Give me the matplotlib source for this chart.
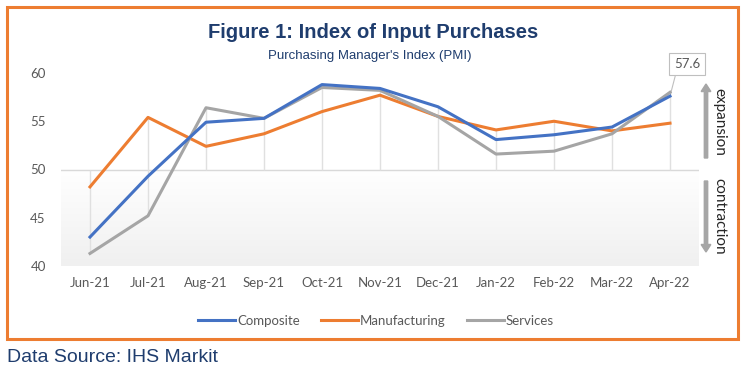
import matplotlib
matplotlib.use("Agg")
import matplotlib.pyplot as plt
import numpy as np
from matplotlib.colors import LinearSegmentedColormap
from matplotlib.patches import Rectangle, FancyArrow

months = ["Jun-21", "Jul-21", "Aug-21", "Sep-21", "Oct-21", "Nov-21", "Dec-21",
          "Jan-22", "Feb-22", "Mar-22", "Apr-22"]
composite = [43.0, 49.3, 54.9, 55.3, 58.8, 58.4, 56.5, 53.1, 53.6, 54.4, 57.6]
manufacturing = [48.2, 55.4, 52.4, 53.7, 56.0, 57.7, 55.5, 54.1, 55.0, 54.0, 54.8]
services = [41.3, 45.2, 56.4, 55.3, 58.5, 58.2, 55.5, 51.6, 51.9, 53.7, 58.0]
yticks = [40, 45, 50, 55, 60]

W, H = 747, 376
fig = plt.figure(figsize=(W / 100, H / 100), dpi=100)

def fx(px):
    return px / W

def fy(py):
    return 1 - py / H

# orange border
fig.patches.append(Rectangle((fx(7), fy(339)), fx(731), (332) / H, transform=fig.transFigure,
                             fill=False, edgecolor="#ED7D31", linewidth=2.2))

ax = fig.add_axes([fx(61), fy(266), fx(638), 193 / H])
x = np.arange(len(months))
ax.set_xlim(-0.5, len(months) - 0.5)
ax.set_ylim(40, 60)

# gradient shading below 50
cmap = LinearSegmentedColormap.from_list("g", ["#f0f0f0", "#ffffff"])
grad = np.linspace(0, 1, 100).reshape(-1, 1)
ax.imshow(grad, extent=(-0.5, len(months) - 0.5, 40, 50), origin="lower", cmap=cmap,
          aspect="auto", zorder=0)
ax.axhline(50, color="#d9d9d9", linewidth=1.0, zorder=1)

# vertical high-low lines
for i in range(len(months)):
    vals = [composite[i], manufacturing[i], services[i], 50]
    ax.vlines(i, min(vals), max(vals), color="#e0e0e0", linewidth=1.0, zorder=1)

ax.plot(x, composite, color="#4472C4", linewidth=2.2, label="Composite", zorder=4)
ax.plot(x, manufacturing, color="#ED7D31", linewidth=2.2, label="Manufacturing", zorder=3)
ax.plot(x, services, color="#A5A5A5", linewidth=2.2, label="Services", zorder=3.5)

for s in ax.spines.values():
    s.set_visible(False)
ax.set_xticks(x)
ax.set_xticklabels(months)
ax.set_yticks(yticks)
ax.tick_params(length=0, colors="#595959", labelsize=9.5)
ax.tick_params(axis="y", pad=11)
ax.tick_params(axis="x", pad=8)
for t in ax.get_xticklabels() + ax.get_yticklabels():
    t.set_fontfamily("Lato")
    t.set_color("#595959")

# data label 57.6
fig.text(fx(687), fy(64), f"{composite[-1]}", ha="center", va="center", fontsize=9.5,
         color="#595959", fontfamily="Lato",
         bbox=dict(boxstyle="square,pad=0.35", facecolor="white", edgecolor="#bfbfbf",
                   linewidth=0.8))
ax.annotate("", xy=(x[-1], composite[-1]), xycoords="data",
            xytext=(fx(676), fy(73)), textcoords="figure fraction",
            arrowprops=dict(arrowstyle="-", color="#bfbfbf", linewidth=0.8,
                            shrinkA=0, shrinkB=0))

# arrows and labels
arrow_kw = dict(color="#a6a6a6", width=0.0045, head_width=0.013, head_length=0.02,
                length_includes_head=True, transform=fig.transFigure)
fig.patches.append(FancyArrow(fx(706), fy(158), 0, (158 - 84) / H, **arrow_kw))
fig.patches.append(FancyArrow(fx(706), fy(181), 0, -(252 - 181) / H, **arrow_kw))
fig.text(fx(719), fy(122), "expansion", rotation=-90, ha="center", va="center",
         fontsize=11, color="#262626", fontfamily="Lato")
fig.text(fx(719), fy(216), "contraction", rotation=-90, ha="center", va="center",
         fontsize=11, color="#262626", fontfamily="Lato")

# titles
fig.text(fx(373), fy(33), "Figure 1: Index of Input Purchases", ha="center", va="center",
         fontsize=14.5, fontweight="bold", color="#1F3D6E", fontfamily="Liberation Sans")
fig.text(fx(370), fy(56), "Purchasing Manager's Index (PMI)", ha="center", va="center",
         fontsize=9.5, color="#1F3D6E", fontfamily="Liberation Sans")

# legend
leg = fig.legend(loc="center", bbox_to_anchor=(fx(376), fy(321)), ncol=3, frameon=False,
                 handlelength=2.8, handletextpad=0.15, columnspacing=1.6,
                 prop={"family": "Lato", "size": 9.5})
for t in leg.get_texts():
    t.set_color("#595959")

fig.text(fx(7), fy(357), "Data Source: IHS Markit", ha="left", va="center", fontsize=14,
         color="#1F3D6E", fontfamily="Liberation Sans")

fig.savefig("out.png", dpi=100)
